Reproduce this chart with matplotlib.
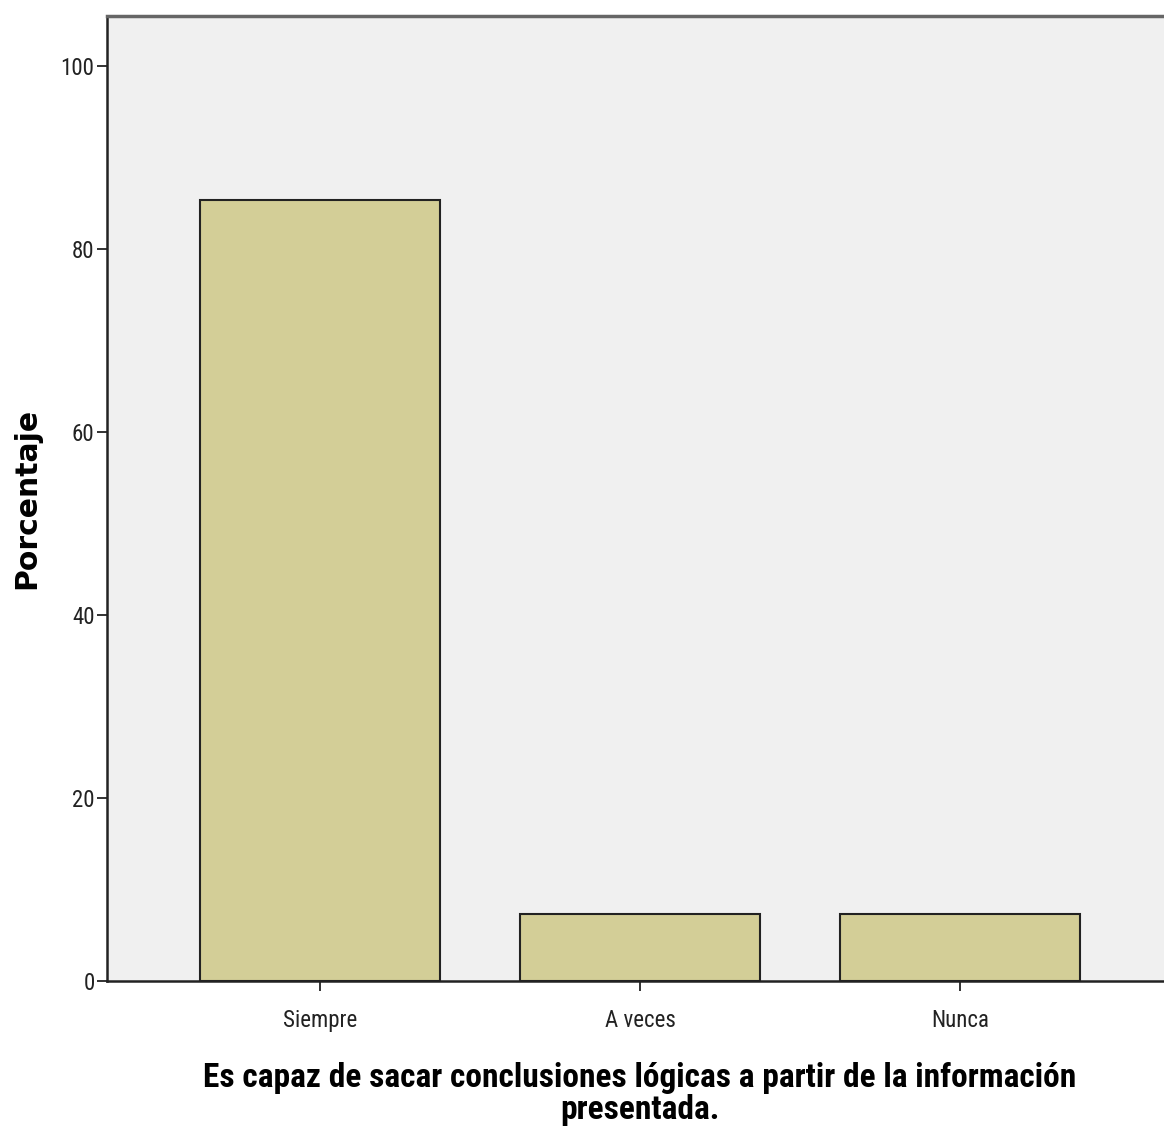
import matplotlib
matplotlib.use("Agg")
import matplotlib.pyplot as plt
from matplotlib import font_manager

categories = ["Siempre", "A veces", "Nunca"]
values = [85.4, 7.3, 7.3]
yticks = [0, 20, 40, 60, 80, 100]

names = {f.name for f in font_manager.fontManager.ttflist}
narrow = None
for cand in ["Liberation Sans Narrow", "Roboto Condensed", "DejaVu Sans Condensed", "Open Sans Condensed"]:
    if cand in names:
        narrow = cand
        break
tick_size = 16.5 if narrow else 14
label_size = 24 if narrow else 20
tick_family = [narrow or "Liberation Sans", "DejaVu Sans"]

fig = plt.figure(figsize=(11.64, 11.26), dpi=100)
W, H = 1164, 1126
left, right, top, bottom = 107, 1173, 16, 981
ax = fig.add_axes([left / W, 1 - bottom / H, (right - left) / W, (bottom - top) / H])
ax.set_facecolor("#f0f0f0")

x = list(range(len(categories)))
ax.bar(x, values, width=0.75, color="#d3ce97", edgecolor="#222222", linewidth=1.5, zorder=3)
ax.set_xlim(-0.666, 2.666)
ax.set_ylim(0, 105.5)
ax.set_xticks(x)
ax.set_xticklabels(categories, fontsize=tick_size, family=tick_family)
ax.set_yticks(yticks)
ax.set_yticklabels([str(t) for t in yticks], fontsize=tick_size, family=tick_family)
ax.tick_params(axis="both", direction="out", length=7, width=1.3, color="#222222", labelcolor="#222222")
ax.tick_params(axis="x", pad=13)
ax.tick_params(axis="y", pad=2)

for s in ["left", "bottom"]:
    ax.spines[s].set_linewidth(1.8)
    ax.spines[s].set_color("#222222")
ax.spines["top"].set_linewidth(2.5)
ax.spines["top"].set_color("#666666")
ax.spines["right"].set_visible(False)

ax.set_ylabel("Porcentaje", fontsize=21.5, fontweight="bold", family=["DejaVu Sans"])
ax.yaxis.set_label_coords(-(107 - 27) / (right - left), 0.5)
ax.yaxis.label.set_va("center")
fig.text(640 / W, 1 - 1094 / H,
         "Es capaz de sacar conclusiones lógicas a partir de la información\npresentada.",
         ha="center", va="center", fontsize=label_size, fontweight="bold",
         family=tick_family, linespacing=1.0)

fig.savefig("out.png", dpi=100)
